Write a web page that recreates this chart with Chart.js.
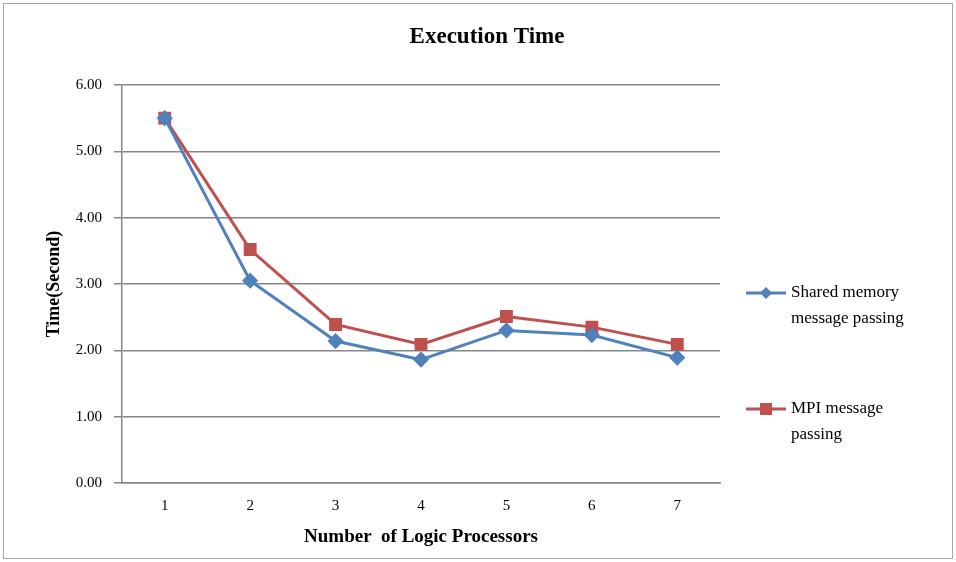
<!DOCTYPE html>
<html>
<head>
<meta charset="utf-8">
<script src="https://cdn.jsdelivr.net/npm/chart.js@4"></script>
<style>
  body { margin: 0; background: #fff; }
  #wrap { width: 956px; height: 562px; }
</style>
</head>
<body>
<div id="wrap"><canvas id="chart" width="956" height="562"></canvas></div>
<script>
const processors = ["1", "2", "3", "4", "5", "6", "7"];
const sharedMemory = [5.50, 3.05, 2.14, 1.86, 2.30, 2.23, 1.89];
const mpiPassing = [5.50, 3.52, 2.39, 2.09, 2.51, 2.35, 2.09];
const seriesNames = [["Shared memory", "message passing"], ["MPI message", "passing"]];
const chartTitle = "Execution Time";

const serif = "'Liberation Serif', 'Times New Roman', serif";

// legend on the right with two-line labels, plus the title centred on the whole canvas
const sideLegend = {
  id: "sideLegend",
  afterDraw(chart) {
    const ctx = chart.ctx;
    const area = chart.chartArea;
    ctx.save();
    ctx.fillStyle = "#000";
    ctx.font = "bold 23px " + serif;
    ctx.textAlign = "center";
    ctx.textBaseline = "middle";
    ctx.fillText(chartTitle, 487, 37);

    const x0 = area.right + 26;
    const ys = [area.top + 208, area.top + 324];
    ctx.textAlign = "left";
    chart.data.datasets.forEach((ds, i) => {
      const y = ys[i];
      ctx.strokeStyle = ds.borderColor;
      ctx.lineWidth = 3;
      ctx.beginPath();
      ctx.moveTo(x0, y);
      ctx.lineTo(x0 + 40, y);
      ctx.stroke();
      ctx.fillStyle = ds.backgroundColor;
      if (ds.pointStyle === "rect") {
        ctx.fillRect(x0 + 14, y - 6, 12, 12);
      } else {
        ctx.beginPath();
        ctx.moveTo(x0 + 20, y - 6);
        ctx.lineTo(x0 + 26, y);
        ctx.lineTo(x0 + 20, y + 6);
        ctx.lineTo(x0 + 14, y);
        ctx.closePath();
        ctx.fill();
      }
      ctx.fillStyle = "#000";
      ctx.font = "17px " + serif;
      seriesNames[i].forEach((line, j) => {
        ctx.fillText(line, x0 + 45, y + j * 26);
      });
    });
    ctx.restore();
  }
};

const frame = {
  id: "frame",
  beforeDraw(chart) {
    const ctx = chart.ctx;
    ctx.save();
    ctx.fillStyle = "#fff";
    ctx.fillRect(0, 0, chart.width, chart.height);
    ctx.strokeStyle = "#a6a6a6";
    ctx.lineWidth = 1;
    ctx.strokeRect(3.5, 3.5, chart.width - 7, chart.height - 7);
    ctx.restore();
  }
};

new Chart(document.getElementById("chart"), {
  type: "line",
  data: {
    labels: processors,
    datasets: [
      {
        label: seriesNames[0].join(" "),
        data: sharedMemory,
        borderColor: "#4F81BD",
        backgroundColor: "#4F81BD",
        borderWidth: 3,
        pointStyle: "rectRot",
        pointRadius: 6,
        pointHoverRadius: 6
      },
      {
        label: seriesNames[1].join(" "),
        data: mpiPassing,
        borderColor: "#C0504D",
        backgroundColor: "#C0504D",
        borderWidth: 3,
        pointStyle: "rect",
        pointRadius: 7,
        pointHoverRadius: 7
      }
    ]
  },
  options: {
    responsive: false,
    animation: false,
    layout: { padding: { left: 44, right: 236, top: 85, bottom: 14 } },
    plugins: {
      legend: { display: false },
      tooltip: { enabled: false },
      title: { display: false }
    },
    scales: {
      x: {
        offset: true,
        grid: { display: false, drawTicks: false },
        border: { color: "#868686", width: 1.5 },
        ticks: { color: "#000", font: { family: serif, size: 15 }, padding: 14 },
        title: {
          display: true,
          text: "Number  of Logic Processors",
          color: "#000",
          font: { family: serif, size: 19, weight: "bold" },
          padding: { top: 10, bottom: 0 }
        },
        afterFit: s => { s.height = 65; }
      },
      y: {
        min: 0,
        max: 6,
        ticks: {
          stepSize: 1,
          color: "#000",
          font: { family: serif, size: 15 },
          padding: 12,
          callback: v => v.toFixed(2)
        },
        grid: { color: "#868686", lineWidth: 1.5, tickLength: 8 },
        border: { color: "#868686", width: 1.5 },
        title: {
          display: true,
          text: "Time(Second)",
          color: "#000",
          font: { family: serif, size: 18, weight: "bold" },
          padding: { top: 0, bottom: 8 }
        },
        afterFit: s => { s.width = 78; }
      }
    }
  },
  plugins: [frame, sideLegend]
});
</script>
</body>
</html>
